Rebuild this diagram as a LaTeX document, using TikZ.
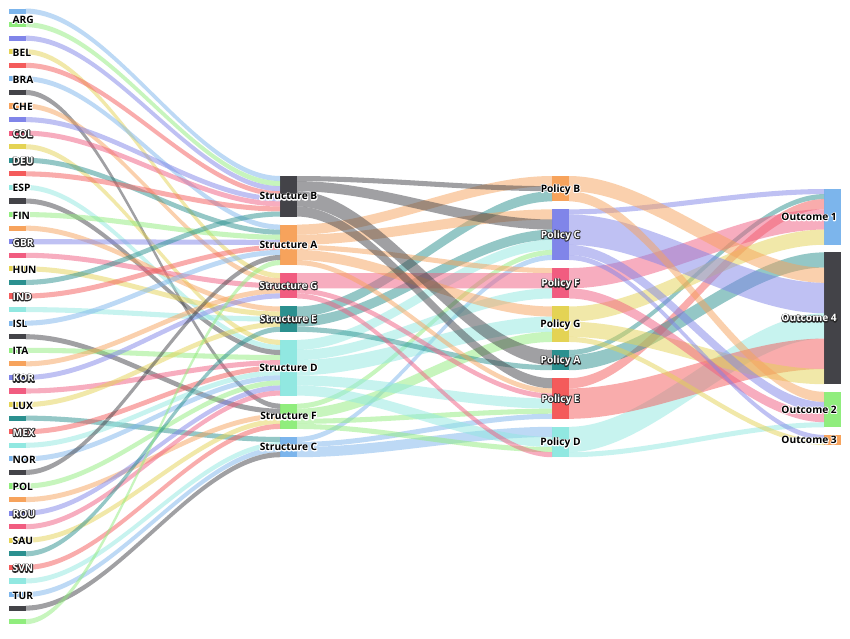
\documentclass[tikz,border=0pt]{standalone}
\usepackage{fontspec}
\setmainfont{Open Sans}
\usepackage{tikz}
\usetikzlibrary{calc}
\definecolor{hcblue}{HTML}{7CB5EC}
\definecolor{hcdark}{HTML}{434348}
\definecolor{hcgreen}{HTML}{90ED7D}
\definecolor{hcorange}{HTML}{F7A35C}
\definecolor{hcpurple}{HTML}{8085E9}
\definecolor{hcpink}{HTML}{F15C80}
\definecolor{hcyellow}{HTML}{E4D354}
\definecolor{hcteal}{HTML}{2B908F}
\definecolor{hcred}{HTML}{F45B5B}
\definecolor{hccyan}{HTML}{91E8E1}

\def\unit{5.07}
% outlined text: stroked copy underneath, filled text on top
\newcommand\halo[3]{\leavevmode\rlap{\special{pdf:code 1 Tr 1.8 w 1 j}\textcolor{#1}{#3}\special{pdf:code 0 Tr}}\textcolor{#2}{#3}}
\newcommand\blk[1]{\halo{white}{black}{#1}}
\newcommand\wht[1]{\halo{black!85}{white}{#1}}

% band from node #1 to node #2, #3 units wide
\newcommand\band[4]{%
  \def\fa{0}\ifcsname fo@#1\endcsname\edef\fa{\csname fo@#1\endcsname}\fi
  \def\fb{0}\ifcsname fi@#2\endcsname\edef\fb{\csname fi@#2\endcsname}\fi
  \pgfmathsetmacro\fw{#3*\unit}%
  \fill[linkband=#4] ($(#1.north east)+(0,\fa)$) .. controls +(84,0) and +(-84,0) .. ($(#2.north west)+(0,\fb)$)
    -- ($(#2.north west)+(0,\fb+\fw)$) .. controls +(-84,0) and +(84,0) .. ($(#1.north east)+(0,\fa+\fw)$) -- cycle;
  \pgfmathsetmacro\fa{\fa+\fw}\expandafter\xdef\csname fo@#1\endcsname{\fa}%
  \pgfmathsetmacro\fb{\fb+\fw}\expandafter\xdef\csname fi@#2\endcsname{\fb}%
}
% country node and its band
\newcommand\cty[3]{%
  \node[box=#2, minimum height=\unit] (c#1) at (8.5,{8.5+13.57*#1}) {};
  \band{c#1}{#3}{1}{#2}}

\tikzset{
  box/.style={fill=#1, inner sep=0pt, outer sep=0pt, minimum width=17, anchor=north west},
  linkband/.style={fill=#1, fill opacity=0.5},
  lab/.style={inner sep=0pt, font=\bfseries\fontsize{10.2}{12}\selectfont},
}

\begin{document}
\begin{tikzpicture}[x=1pt,y=-1pt]
\fill[white] (0,0) rectangle (850,638);
\useasboundingbox (0,0) rectangle (850,638);

% structures
\node[box=hcdark, minimum height=8*\unit] (sB) at (280,176) {};
\node[box=hcorange, minimum height=8*\unit] (sA) at (280,224.56) {};
\node[box=hcpink, minimum height=5*\unit] (sG) at (280,273.12) {};
\node[box=hcteal, minimum height=5*\unit] (sE) at (280,306.47) {};
\node[box=hccyan, minimum height=11*\unit] (sD) at (280,339.82) {};
\node[box=hcgreen, minimum height=5*\unit] (sF) at (280,403.59) {};
\node[box=hcblue, minimum height=4*\unit] (sC) at (280,436.94) {};
% policies
\node[box=hcorange, minimum height=5*\unit] (pB) at (552,176) {};
\node[box=hcpurple, minimum height=10*\unit] (pC) at (552,209.35) {};
\node[box=hcpink, minimum height=6*\unit] (pF) at (552,268.05) {};
\node[box=hcyellow, minimum height=7*\unit] (pG) at (552,306.47) {};
\node[box=hcteal, minimum height=4*\unit] (pA) at (552,349.96) {};
\node[box=hcred, minimum height=8*\unit] (pE) at (552,378.24) {};
\node[box=hccyan, minimum height=6*\unit] (pD) at (552,426.8) {};
% outcomes
\node[box=hcblue, minimum height=11*\unit] (o1) at (824,189) {};
\node[box=hcdark, minimum height=26*\unit] (o4) at (824,252.37) {};
\node[box=hcgreen, minimum height=7*\unit] (o2) at (824,391.79) {};
\node[box=hcorange, minimum height=2*\unit] (o3) at (824,434.88) {};

% countries
\cty{0}{hcblue}{sB}
\cty{1}{hcgreen}{sB}
\cty{2}{hcpurple}{sB}
\cty{3}{hcyellow}{sG}
\cty{4}{hcred}{sB}
\cty{5}{hcblue}{sA}
\cty{6}{hcdark}{sF}
\cty{7}{hcorange}{sG}
\cty{8}{hcpurple}{sB}
\cty{9}{hcpink}{sB}
\cty{10}{hcyellow}{sD}
\cty{11}{hcteal}{sA}
\cty{12}{hcred}{sB}
\cty{13}{hccyan}{sD}
\cty{14}{hcdark}{sD}
\cty{15}{hcgreen}{sA}
\cty{16}{hcorange}{sE}
\cty{17}{hcpurple}{sA}
\cty{18}{hcpink}{sG}
\cty{19}{hcyellow}{sE}
\cty{20}{hcteal}{sB}
\cty{21}{hcred}{sA}
\cty{22}{hccyan}{sE}
\cty{23}{hcblue}{sA}
\cty{24}{hcdark}{sF}
\cty{25}{hcgreen}{sD}
\cty{26}{hcorange}{sG}
\cty{27}{hcpurple}{sG}
\cty{28}{hcpink}{sD}
\cty{29}{hcyellow}{sE}
\cty{30}{hcteal}{sC}
\cty{31}{hcred}{sD}
\cty{32}{hccyan}{sD}
\cty{33}{hcblue}{sD}
\cty{34}{hcdark}{sA}
\cty{35}{hcgreen}{sD}
\cty{36}{hcorange}{sF}
\cty{37}{hcpurple}{sD}
\cty{38}{hcpink}{sD}
\cty{39}{hcyellow}{sF}
\cty{40}{hcteal}{sE}
\cty{41}{hcred}{sF}
\cty{42}{hccyan}{sC}
\cty{43}{hcblue}{sC}
\cty{44}{hcdark}{sC}
\cty{45}{hcgreen}{sA}

% structures to policies
\band{sA}{pB}{2}{hcorange}
\band{sB}{pB}{1}{hcdark}
\band{sE}{pB}{2}{hcteal}
\band{sA}{pC}{2}{hcorange}
\band{sB}{pC}{2}{hcdark}
\band{sE}{pC}{2}{hcteal}
\band{sD}{pC}{2}{hccyan}
\band{sF}{pC}{1}{hcgreen}
\band{sC}{pC}{1}{hcblue}
\band{sA}{pF}{1}{hcorange}
\band{sG}{pF}{3}{hcpink}
\band{sD}{pF}{2}{hccyan}
\band{sA}{pG}{2}{hcorange}
\band{sD}{pG}{3}{hccyan}
\band{sF}{pG}{2}{hcgreen}
\band{sB}{pA}{3}{hcdark}
\band{sE}{pA}{1}{hcteal}
\band{sB}{pE}{2}{hcdark}
\band{sA}{pE}{1}{hcorange}
\band{sG}{pE}{1}{hcpink}
\band{sD}{pE}{2}{hccyan}
\band{sF}{pE}{1}{hcgreen}
\band{sC}{pE}{1}{hcblue}
\band{sC}{pD}{2}{hcblue}
\band{sD}{pD}{2}{hccyan}
\band{sF}{pD}{1}{hcgreen}
\band{sG}{pD}{1}{hcpink}

% policies to outcomes
\band{pC}{o1}{1}{hcpurple}
\band{pA}{o1}{1}{hcteal}
\band{pE}{o1}{2}{hcred}
\band{pF}{o1}{4}{hcpink}
\band{pG}{o1}{3}{hcyellow}
\band{pA}{o4}{3}{hcteal}
\band{pB}{o4}{3}{hcorange}
\band{pC}{o4}{6}{hcpurple}
\band{pD}{o4}{5}{hccyan}
\band{pE}{o4}{6}{hcred}
\band{pG}{o4}{3}{hcyellow}
\band{pB}{o2}{2}{hcorange}
\band{pC}{o2}{2}{hcpurple}
\band{pF}{o2}{2}{hcpink}
\band{pD}{o2}{1}{hccyan}
\band{pC}{o3}{1}{hcpurple}
\band{pG}{o3}{1}{hcyellow}

% labels
\node[lab, anchor=base west] (lARG) at (12.5,23) {\blk{ARG}};
\node[lab, anchor=base west] (lBEL) at (12.5,{15.5+13.57*3}) {\blk{BEL}};
\node[lab, anchor=base west] (lBRA) at (12.5,{15.5+13.57*5}) {\blk{BRA}};
\node[lab, anchor=base west] (lCHE) at (12.5,{15.5+13.57*7}) {\blk{CHE}};
\node[lab, anchor=base west] (lCOL) at (12.5,{15.5+13.57*9}) {\wht{COL}};
\node[lab, anchor=base west] (lDEU) at (12.5,{15.5+13.57*11}) {\wht{DEU}};
\node[lab, anchor=base west] (lESP) at (12.5,{15.5+13.57*13}) {\blk{ESP}};
\node[lab, anchor=base west] (lFIN) at (12.5,{15.5+13.57*15}) {\blk{FIN}};
\node[lab, anchor=base west] (lGBR) at (12.5,{15.5+13.57*17}) {\wht{GBR}};
\node[lab, anchor=base west] (lHUN) at (12.5,{15.5+13.57*19}) {\blk{HUN}};
\node[lab, anchor=base west] (lIND) at (12.5,{15.5+13.57*21}) {\wht{IND}};
\node[lab, anchor=base west] (lISL) at (12.5,{15.5+13.57*23}) {\blk{ISL}};
\node[lab, anchor=base west] (lITA) at (12.5,{15.5+13.57*25}) {\blk{ITA}};
\node[lab, anchor=base west] (lKOR) at (12.5,{15.5+13.57*27}) {\wht{KOR}};
\node[lab, anchor=base west] (lLUX) at (12.5,{15.5+13.57*29}) {\blk{LUX}};
\node[lab, anchor=base west] (lMEX) at (12.5,{15.5+13.57*31}) {\wht{MEX}};
\node[lab, anchor=base west] (lNOR) at (12.5,{15.5+13.57*33}) {\blk{NOR}};
\node[lab, anchor=base west] (lPOL) at (12.5,{15.5+13.57*35}) {\blk{POL}};
\node[lab, anchor=base west] (lROU) at (12.5,{15.5+13.57*37}) {\wht{ROU}};
\node[lab, anchor=base west] (lSAU) at (12.5,{15.5+13.57*39}) {\blk{SAU}};
\node[lab, anchor=base west] (lSVN) at (12.5,{15.5+13.57*41}) {\wht{SVN}};
\node[lab, anchor=base west] (lTUR) at (12.5,{15.5+13.57*43}) {\blk{TUR}};

\node[lab, anchor=base] (lsB) at ($(sB.center)+(0,3.5)$) {\blk{Structure B}};
\node[lab, anchor=base] (lsA) at ($(sA.center)+(0,3.5)$) {\blk{Structure A}};
\node[lab, anchor=base] (lsG) at ($(sG.center)+(0,3.5)$) {\wht{Structure G}};
\node[lab, anchor=base] (lsE) at ($(sE.center)+(0,3.5)$) {\wht{Structure E}};
\node[lab, anchor=base] (lsD) at ($(sD.center)+(0,3.5)$) {\blk{Structure D}};
\node[lab, anchor=base] (lsF) at ($(sF.center)+(0,3.5)$) {\blk{Structure F}};
\node[lab, anchor=base] (lsC) at ($(sC.center)+(0,3.5)$) {\blk{Structure C}};

\node[lab, anchor=base] (lpB) at ($(pB.center)+(0,3.5)$) {\blk{Policy B}};
\node[lab, anchor=base] (lpC) at ($(pC.center)+(0,3.5)$) {\wht{Policy C}};
\node[lab, anchor=base] (lpF) at ($(pF.center)+(0,3.5)$) {\wht{Policy F}};
\node[lab, anchor=base] (lpG) at ($(pG.center)+(0,3.5)$) {\blk{Policy G}};
\node[lab, anchor=base] (lpA) at ($(pA.center)+(0,3.5)$) {\wht{Policy A}};
\node[lab, anchor=base] (lpE) at ($(pE.center)+(0,3.5)$) {\wht{Policy E}};
\node[lab, anchor=base] (lpD) at ($(pD.center)+(0,3.5)$) {\blk{Policy D}};

\node[lab, anchor=base east] (lo1) at ($(o1.east)+(-4,3.5)$) {\blk{Outcome 1}};
\node[lab, anchor=base east] (lo4) at ($(o4.east)+(-4,3.5)$) {\wht{Outcome 4}};
\node[lab, anchor=base east] (lo2) at ($(o2.east)+(-4,3.5)$) {\blk{Outcome 2}};
\node[lab, anchor=base east] (lo3) at ($(o3.east)+(-4,3.5)$) {\blk{Outcome 3}};
\end{tikzpicture}
\end{document}
